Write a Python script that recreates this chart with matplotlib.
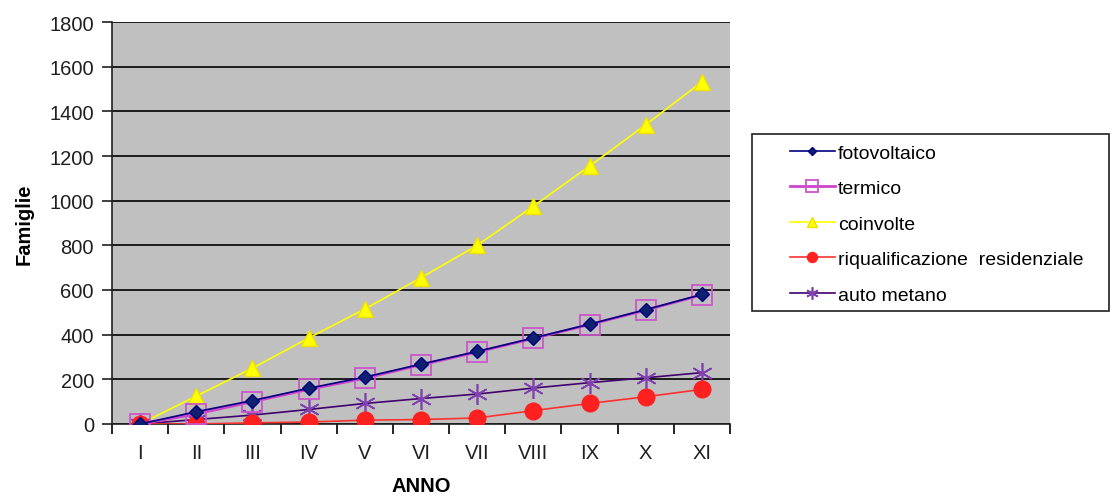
import matplotlib
matplotlib.use("Agg")
import matplotlib.pyplot as plt
from matplotlib.patches import Rectangle
from matplotlib.ticker import FixedLocator, MultipleLocator
import numpy as np

plt.rcParams['font.family'] = ['Liberation Sans', 'DejaVu Sans']

# Data
anni = ["I", "II", "III", "IV", "V", "VI", "VII", "VIII", "IX", "X", "XI"]
fotovoltaico = [0, 55, 105, 160, 210, 268, 325, 385, 447, 512, 580]
termico = [0, 45, 100, 155, 205, 265, 322, 383, 445, 510, 578]
coinvolte = [0, 125, 250, 385, 515, 655, 800, 975, 1155, 1340, 1532]
riqualificazione = [0, 0, 5, 9, 17, 20, 27, 60, 92, 122, 155]
auto_metano = [0, 20, 40, 65, 92, 114, 134, 161, 185, 207, 230]

W, H = 1112, 502
x = np.arange(len(anni))

fig = plt.figure(figsize=(W / 100, H / 100), dpi=100)
ax = fig.add_axes([112 / W, 1 - 425 / H, 618 / W, 402 / H])
ax.set_facecolor("#c0c0c0")

asterisk = (6, 2, 0)
ax.plot(x, coinvolte, color="#ffff00", lw=1.2, marker="^", ms=12,
        mec="#f0e000", mfc="#ffff00", label="coinvolte", zorder=3)
ax.plot(x, auto_metano, color="#400070", lw=1.2, marker=asterisk, ms=15,
        mec="#8040b0", mew=1.2, label="auto metano", zorder=3)
ax.plot(x, riqualificazione, color="#ff3030", lw=1.2, marker="o", ms=12,
        mec="#ff2020", mfc="#ff2020", label="riqualificazione  residenziale", zorder=3)
ax.plot(x, termico, color="#cc44cc", lw=2.0, marker="s", ms=15,
        mfc="none", mec="#cc55cc", mew=1.3, label="termico", zorder=4)
ax.plot(x, fotovoltaico, color="#000080", lw=1.2, marker="D", ms=7.5,
        mec="#000080", mfc="#102070", label="fotovoltaico", zorder=5)

ax.set_xlim(-0.5, len(anni) - 0.5)
ax.set_ylim(0, 1800)
ax.yaxis.set_major_locator(MultipleLocator(200))
ax.grid(axis="y", color="black", lw=1.2)
ax.set_axisbelow(True)

ax.set_xticks(x)
ax.set_xticklabels(anni)
ax.xaxis.set_minor_locator(FixedLocator(np.arange(-0.5, len(anni), 1.0)))
ax.tick_params(axis="x", which="major", length=0, pad=14, labelsize=14.5,
               colors="#202020")
ax.tick_params(axis="x", which="minor", length=7, width=1.2, direction="out")
ax.tick_params(axis="y", length=7, width=1.2, labelsize=14.5, pad=6,
               colors="#202020")

for side in ["top", "right"]:
    ax.spines[side].set_visible(False)
for side in ["left", "bottom"]:
    ax.spines[side].set_color("#202020")
    ax.spines[side].set_linewidth(1.2)

ax.set_xlabel("ANNO", fontsize=14.5, fontweight="bold", labelpad=10)
ax.set_ylabel("Famiglie", fontsize=14.5, fontweight="bold", labelpad=11)

# legend box drawn by hand, entries placed inside it
fig.patches.append(Rectangle((752 / W, 1 - 312 / H), 357 / W, 177 / H,
                             transform=fig.transFigure, fill=False,
                             edgecolor="#202020", lw=1.2))

handles, labels = ax.get_legend_handles_labels()
order = ["fotovoltaico", "termico", "coinvolte",
         "riqualificazione  residenziale", "auto metano"]
hmap = dict(zip(labels, handles))
fig.legend([hmap[k] for k in order], order,
           loc="upper left", bbox_to_anchor=(790 / W, 1 - 145 / H),
           fontsize=14, frameon=False, borderpad=0, borderaxespad=0,
           handlelength=2.3, handletextpad=0.15,
           labelspacing=0.92, markerscale=0.6)

fig.savefig("out.png", dpi=100)
